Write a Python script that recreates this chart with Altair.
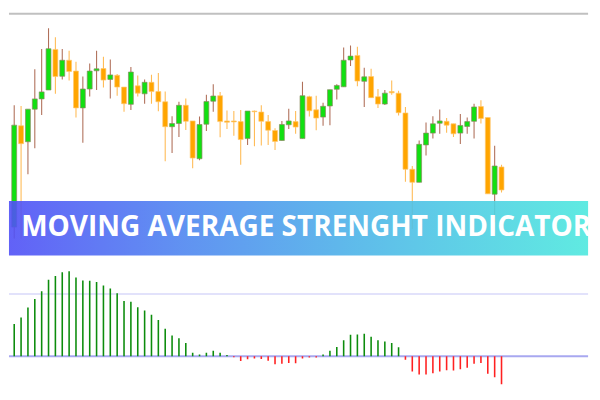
import altair as alt
import pandas as pd

# ---- data (price units, 72 candles) ----
OPEN = [27, 132.7, 116, 150, 160.7, 170, 212.3, 184.3, 201, 189.7, 151.3, 171, 190, 192.3, 181, 185.3,
        173, 155, 174.3, 166, 178, 168.3, 157.7, 131.7, 135, 154, 137.7, 98.3, 134.3, 158.3, 164, 137.7,
        137.7, 137, 119.3, 148, 147, 137, 127.7, 117.3, 133.7, 137, 119.3, 163, 149.3, 141.7, 153.3, 170.7,
        173.3, 201.3, 206, 179, 184, 163, 155.3, 168.3, 166.7, 146, 87.3, 73.7, 112.7, 125, 135.3, 137.3,
        134.7, 125, 132, 137.3, 152.7, 141.3, 61.3, 89.7]
CLOSE = [133.3, 114, 150, 160.7, 168, 213, 184, 201, 189.3, 151.3, 171, 189.7, 192, 180.3, 185.7, 173,
         155.7, 188.7, 166.7, 178, 168.3, 157.7, 131.7, 135, 154, 137.3, 99, 134, 158, 163.7, 137, 136.3,
         136.7, 118.3, 148, 147.3, 137.3, 128, 116.3, 134, 137.7, 131.3, 164, 148.3, 140.7, 153, 170.3, 174.7,
         201, 205.3, 179.3, 183.7, 162, 155.3, 166.7, 167, 146.3, 87.3, 73.7, 113.3, 125, 134.7, 137.7, 133.3,
         124.3, 133, 137, 152.3, 140.3, 61.7, 90.7, 65.7]
HIGH = [154, 153.3, 150, 191.7, 212.7, 234.3, 225, 212.7, 211, 199.3, 184, 197.7, 211, 204.7, 201.7, 186.7,
        173, 194, 185, 181, 186, 187.7, 168.3, 142.7, 157.7, 161, 137.7, 142.3, 165, 176, 168, 148.7,
        148, 149, 148, 148.5, 154, 144, 130, 137.7, 150.3, 148, 178.7, 164, 164, 156.7, 170.3, 176,
        214.3, 216.3, 215, 193.3, 192, 171, 170, 180, 169.3, 152.3, 90.7, 117.3, 136, 142.7, 149.7, 140.7,
        134.7, 145, 141.3, 155.7, 159.3, 141.3, 111.7, 92]
LOW = [15, 15, 82, 109.3, 144, 170, 166, 181, 180, 141.3, 115, 163.3, 170, 172.7, 161, 164,
       147.3, 149, 163.3, 155.7, 155.7, 147.7, 95.7, 104.3, 121, 128.3, 88.3, 96.7, 127.3, 147.3, 120.7, 129.3,
       122.3, 92, 112.7, 111.3, 112, 112.7, 107.3, 117.3, 129.3, 124.3, 119.3, 142.3, 128, 132.7, 133.3, 160,
       173.3, 195, 174, 152.3, 162, 151.3, 154.3, 165, 143.3, 74.3, 25, 73.7, 101.7, 119.3, 124.3, 125.3,
       121, 113.7, 124.3, 119.3, 135, 61.7, 32, 63]
STRENGTH = [33.7, 40.3, 50.7, 59.7, 67.7, 79.7, 83.7, 87.7, 88.7, 82, 79, 78.7, 77.3, 73.7, 70.7, 65.7,
            57.7, 56.7, 51, 47.7, 43.3, 37.7, 28.7, 21.7, 18.7, 13.7, 3.7, 1.7, 3.7, 5.7, 3.7, 1.3,
            -1, -5, -3.3, -2.3, -3, -4.7, -8.3, -8, -7, -7.3, -2.3, -1.3, -1.3, 1.7, 5.7, 9.7,
            16.7, 22.3, 22.7, 23.3, 20.3, 16.7, 15.3, 13.7, 9.3, -3.7, -16, -19, -19, -17.7, -16, -14.7,
            -15, -13.7, -12, -8, -7, -18.3, -22, -29.3]
LEVELS = [65, 0]
TITLE = "MOVING AVERAGE STRENGHT INDICATOR"

GREEN = "#11e011"
ORANGE = "#ffa500"
W, H_TOP, H_BOT = 592, 248, 144

df = pd.DataFrame({"i": list(range(len(OPEN))), "open": OPEN, "close": CLOSE,
                   "high": HIGH, "low": LOW, "strength": STRENGTH})
up = "datum.close >= datum.open"

xs = alt.X("i:Q", scale=alt.Scale(domain=[-0.05, 82.9], nice=False, zero=False), axis=None)
ys = alt.Scale(domain=[-3, 250], nice=False, zero=False)

base = alt.Chart(df)
wicks = base.mark_rule(strokeWidth=1.1, clip=True).encode(
    x=xs,
    y=alt.Y("high:Q", scale=ys, axis=None),
    y2="low:Q",
    color=alt.condition(up, alt.value("#b0705a"), alt.value("#ffbb55")),
)
bodies = base.mark_bar(size=5, clip=True, strokeWidth=0.7).encode(
    x=xs,
    y=alt.Y("open:Q", scale=ys, axis=None),
    y2="close:Q",
    color=alt.condition(up, alt.value(GREEN), alt.value(ORANGE)),
    stroke=alt.condition(up, alt.value("#8a8a60"), alt.value("#ffc870")),
)

one = pd.DataFrame({"t": [TITLE]})
topline = alt.Chart(one).mark_rule(color="#c0c0c0", strokeWidth=2).encode(
    x=alt.value(0), x2=alt.value(W), y=alt.value(0.5))
banner = alt.Chart(one).mark_rect(
    opacity=0.9,
    fill=alt.Gradient(gradient="linear", x1=0, x2=1, y1=0, y2=0,
                      stops=[alt.GradientStop(color="#5050f6", offset=0),
                             alt.GradientStop(color="#4f86f0", offset=0.3),
                             alt.GradientStop(color="#4db4e8", offset=0.6),
                             alt.GradientStop(color="#4ee8de", offset=1)]),
).encode(x=alt.value(0), x2=alt.value(W), y=alt.value(191.8), y2=alt.value(247.6))
text = alt.Chart(one).mark_text(
    align="left", baseline="alphabetic", font="Open Sans", fontWeight="bold",
    fontSize=28.6, color="white",
).encode(x=alt.value(12.5), y=alt.value(227.5), text="t:N")

top = alt.layer(wicks, bodies, topline, banner, text).properties(width=W, height=H_TOP)

ysb = alt.Scale(domain=[-42.3, 104.7], nice=False, zero=False)
lev = pd.DataFrame({"level": LEVELS, "kind": ["upper", "zero"]})
levels = alt.Chart(lev).mark_rule(strokeWidth=2).encode(
    y=alt.Y("level:Q", scale=ysb, axis=None),
    color=alt.Color("kind:N", scale=alt.Scale(domain=["upper", "zero"], range=["#e2e2fb", "#a8a8f0"]),
                    legend=None),
)
hist = base.mark_bar(size=1.6, clip=True).encode(
    x=xs,
    y=alt.Y("strength:Q", scale=ysb, axis=None),
    y2=alt.datum(0),
    color=alt.condition("datum.strength >= 0", alt.value("#0c8c0c"), alt.value("#ff2020")),
)
bottom = alt.layer(levels, hist).properties(width=W, height=H_BOT)

chart = alt.vconcat(top, bottom, spacing=0).properties(padding=0).configure_view(stroke=None)
chart.save("out.html", embed_options={"renderer": "svg", "actions": False})
